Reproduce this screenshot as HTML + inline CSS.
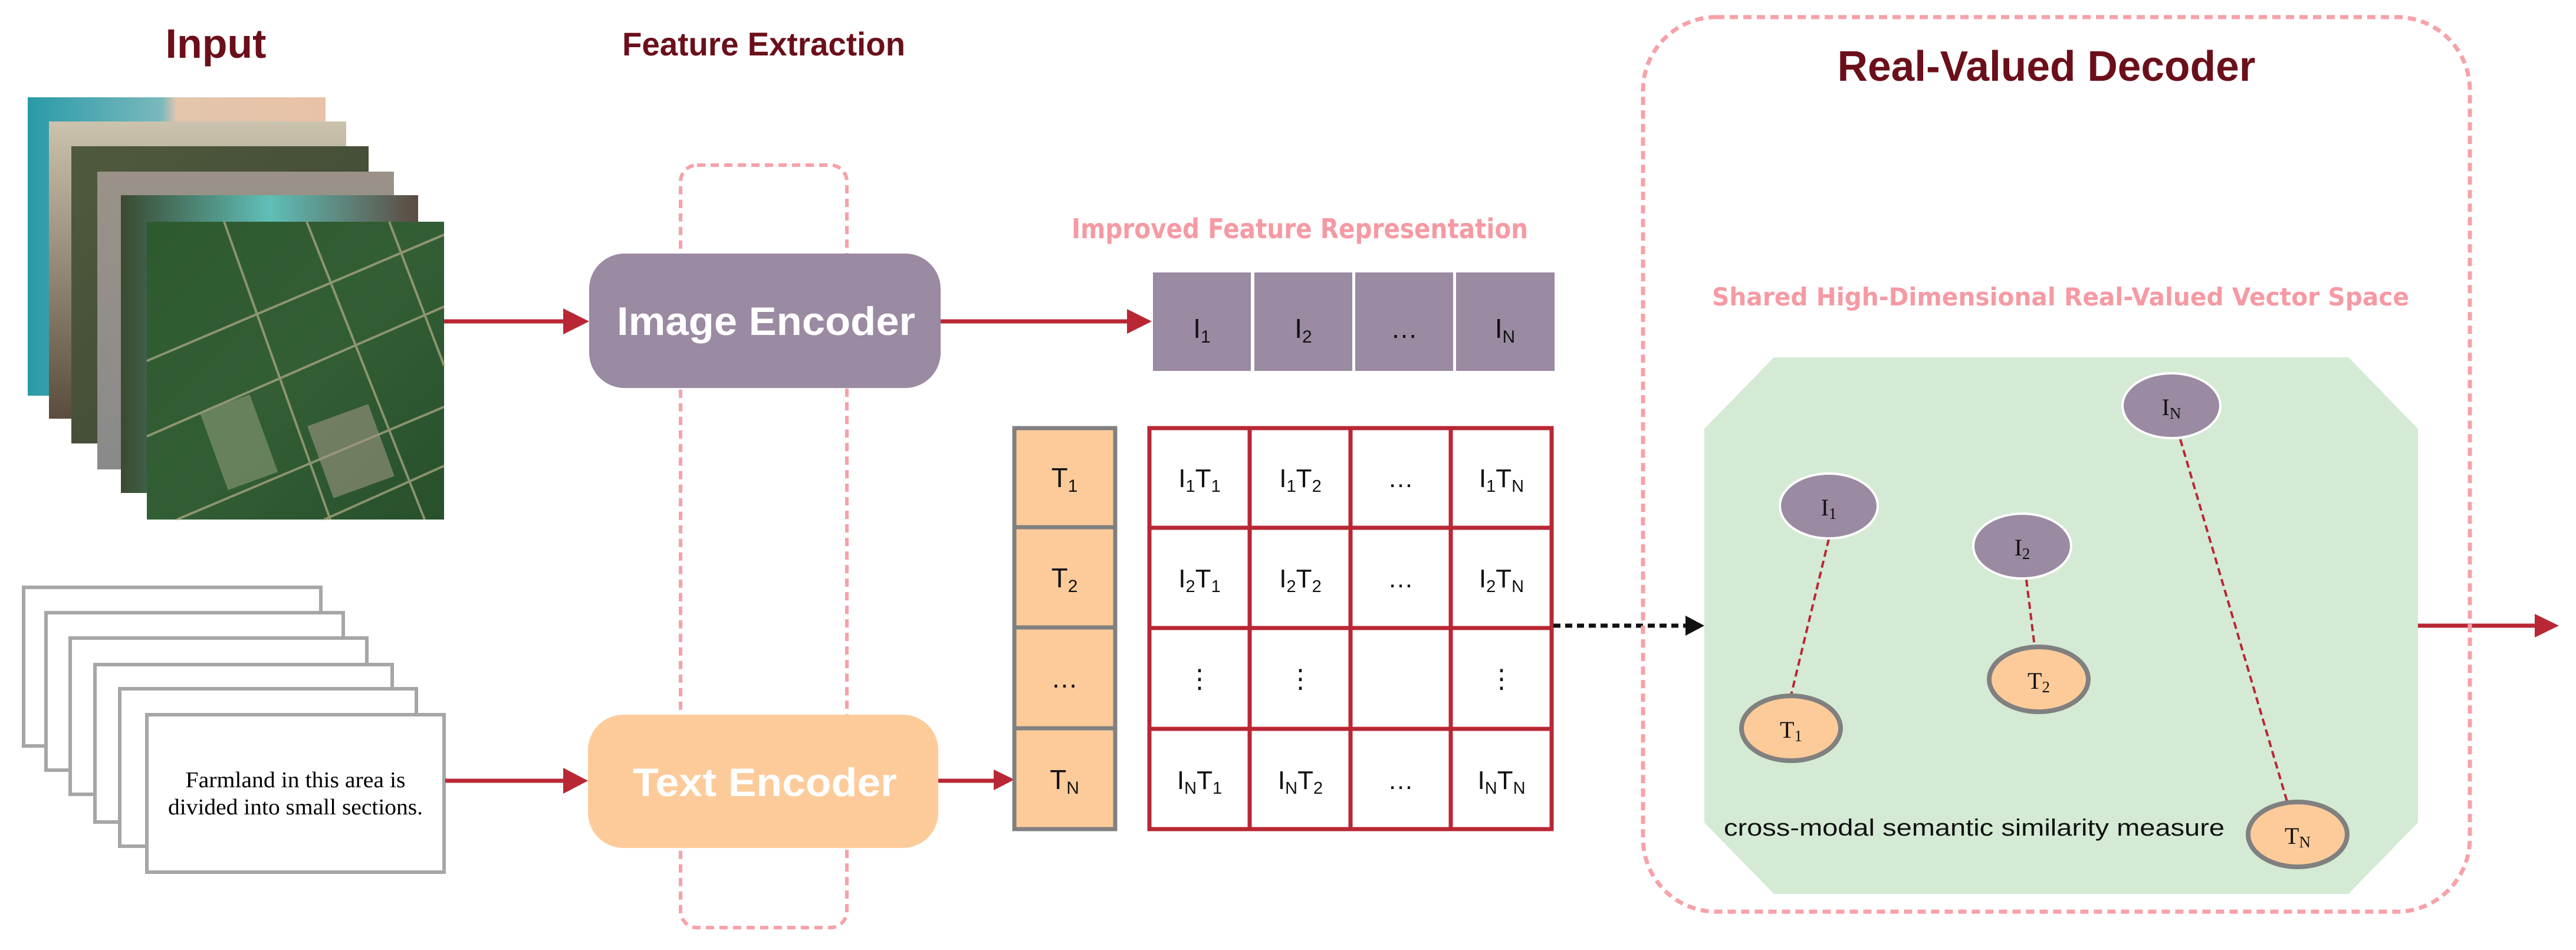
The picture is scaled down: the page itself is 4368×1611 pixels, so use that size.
<!DOCTYPE html>
<html><head><meta charset="utf-8"><style>html,body{margin:0;padding:0;background:#fff}svg{display:block}</style></head>
<body>
<svg width="4368" height="1611" viewBox="0 0 4368 1611" xmlns="http://www.w3.org/2000/svg">
<defs>
<linearGradient id="g1" x1="0" y1="0" x2="1" y2="0"><stop offset="0" stop-color="#2a9aa8"/><stop offset="0.45" stop-color="#7ab9bd"/><stop offset="0.5" stop-color="#e2c6ad"/><stop offset="1" stop-color="#e9c2a8"/></linearGradient>
<linearGradient id="g2" x1="0" y1="0" x2="0" y2="1"><stop offset="0" stop-color="#cbc3ae"/><stop offset="1" stop-color="#5a4d3e"/></linearGradient>
<linearGradient id="g3" x1="0" y1="0" x2="1" y2="1"><stop offset="0" stop-color="#4f5a3d"/><stop offset="1" stop-color="#3e4532"/></linearGradient>
<linearGradient id="g4" x1="0" y1="0" x2="0" y2="1"><stop offset="0" stop-color="#9a9288"/><stop offset="1" stop-color="#8a8a8a"/></linearGradient>
<linearGradient id="g5" x1="0" y1="0" x2="1" y2="0"><stop offset="0" stop-color="#3a4a30"/><stop offset="0.5" stop-color="#5fbfb8"/><stop offset="1" stop-color="#5c4a40"/></linearGradient>
<linearGradient id="g6" x1="0" y1="0" x2="1" y2="1"><stop offset="0" stop-color="#2e5a30"/><stop offset="0.5" stop-color="#335e35"/><stop offset="1" stop-color="#27502b"/></linearGradient>
</defs>

<!-- titles -->
<text x="366" y="98" font-family="Liberation Sans, sans-serif" font-weight="bold" font-size="70" fill="#6b0f1a" text-anchor="middle" textLength="171" lengthAdjust="spacingAndGlyphs">Input</text>
<text x="1295" y="94" font-family="Liberation Sans, sans-serif" font-weight="bold" font-size="56" fill="#6b0f1a" text-anchor="middle" textLength="480" lengthAdjust="spacingAndGlyphs">Feature Extraction</text>

<!-- image stack -->
<rect x="47" y="165" width="505" height="506" fill="url(#g1)"/>
<rect x="83" y="206" width="504" height="504" fill="url(#g2)"/>
<rect x="121" y="248" width="504" height="504" fill="url(#g3)"/>
<rect x="165" y="291" width="503" height="505" fill="url(#g4)"/>
<rect x="205" y="331" width="504" height="505" fill="url(#g5)"/>
<rect x="249" y="376" width="504" height="505" fill="url(#g6)"/>
<g stroke="#b5ad8a" stroke-width="4" opacity="0.7" fill="none">
<path d="M249 612 L753 398"/><path d="M249 740 L753 520"/><path d="M300 881 L753 690"/><path d="M550 881 L753 790"/>
<path d="M380 376 L560 881"/><path d="M520 376 L720 881"/><path d="M660 376 L753 620"/>
</g>
<rect x="540" y="700" width="110" height="130" fill="#9e9680" opacity="0.6" transform="rotate(-20 595 765)"/>
<rect x="360" y="680" width="90" height="140" fill="#8a9a78" opacity="0.6" transform="rotate(-20 405 750)"/>

<!-- text cards -->
<g fill="#fff" stroke="#a6a6a6" stroke-width="6">
<rect x="40" y="996" width="504" height="269"/>
<rect x="78" y="1039" width="504" height="267"/>
<rect x="119" y="1082" width="503" height="265"/>
<rect x="161" y="1127" width="504" height="267"/>
<rect x="203" y="1168" width="503" height="267"/>
<rect x="249" y="1212" width="504" height="267"/>
</g>
<text x="501" y="1335" font-family="Liberation Serif, serif" font-size="38" fill="#000" text-anchor="middle" textLength="373" lengthAdjust="spacingAndGlyphs">Farmland in this area is</text>
<text x="501" y="1381" font-family="Liberation Serif, serif" font-size="38" fill="#000" text-anchor="middle" textLength="432" lengthAdjust="spacingAndGlyphs">divided into small sections.</text>

<!-- dashed feature extraction rect -->
<rect x="1154" y="280" width="282" height="1293" rx="28" fill="none" stroke="#f7a1a8" stroke-width="6" stroke-dasharray="14 9"/>

<!-- encoders -->
<rect x="999" y="430" width="596" height="228" rx="60" fill="#9a8aa2"/>
<text x="1299" y="568" font-family="Liberation Sans, sans-serif" font-weight="bold" font-size="68" fill="#fff" text-anchor="middle" textLength="506" lengthAdjust="spacingAndGlyphs">Image Encoder</text>
<rect x="997" y="1212" width="594" height="226" rx="60" fill="#fdcb9a"/>
<text x="1297" y="1350" font-family="Liberation Sans, sans-serif" font-weight="bold" font-size="68" fill="#fff" text-anchor="middle" textLength="448" lengthAdjust="spacingAndGlyphs">Text Encoder</text>

<!-- arrows -->
<g stroke="#b92735" stroke-width="7" fill="#b92735">
<line x1="753" y1="545" x2="960" y2="545"/>
<line x1="755" y1="1324" x2="960" y2="1324"/>
<line x1="1595" y1="545" x2="1915" y2="545"/>
<line x1="1591" y1="1324" x2="1690" y2="1324"/>
<line x1="4097" y1="1061" x2="4300" y2="1061"/>
</g>
<g fill="#b92735">
<polygon points="955,523 999,545 955,567"/>
<polygon points="955,1302 997,1324 955,1346"/>
<polygon points="1911,524 1953,545 1911,566"/>
<polygon points="1685,1305 1720,1322 1685,1340"/>
<polygon points="4298,1041 4339,1061 4298,1081"/>
</g>

<!-- Improved feature representation -->
<text x="2204" y="404" font-family="DejaVu Sans, sans-serif" font-weight="bold" font-size="46" fill="#f59aa3" text-anchor="middle" textLength="774" lengthAdjust="spacingAndGlyphs">Improved Feature Representation</text>
<g fill="#9a8aa2">
<rect x="1955" y="462" width="166" height="167"/>
<rect x="2127" y="462" width="166" height="167"/>
<rect x="2298" y="462" width="166" height="167"/>
<rect x="2469" y="462" width="167" height="167"/>
</g>
<g font-family="Liberation Sans, sans-serif" font-size="46" fill="#111" text-anchor="middle">
<text x="2038" y="573">I<tspan font-size="30" dy="8">1</tspan></text>
<text x="2210" y="573">I<tspan font-size="30" dy="8">2</tspan></text>
<text x="2381" y="573">…</text>
<text x="2552" y="573">I<tspan font-size="30" dy="8">N</tspan></text>
</g>

<!-- T column -->
<rect x="1720" y="726" width="171" height="680" fill="#fdcb9a" stroke="#808080" stroke-width="7"/>
<g stroke="#808080" stroke-width="7">
<line x1="1720" y1="894" x2="1891" y2="894"/><line x1="1720" y1="1064" x2="1891" y2="1064"/><line x1="1720" y1="1235" x2="1891" y2="1235"/>
</g>
<g font-family="Liberation Sans, sans-serif" font-size="46" fill="#111" text-anchor="middle">
<text x="1805" y="826">T<tspan font-size="30" dy="8">1</tspan></text>
<text x="1805" y="996">T<tspan font-size="30" dy="8">2</tspan></text>
<text x="1805" y="1166">…</text>
<text x="1805" y="1338">T<tspan font-size="30" dy="8">N</tspan></text>
</g>

<!-- matrix -->
<rect x="1949" y="726" width="682" height="680" fill="#fff" stroke="#b92735" stroke-width="7"/>
<g stroke="#b92735" stroke-width="7">
<line x1="2119" y1="726" x2="2119" y2="1406"/><line x1="2290" y1="726" x2="2290" y2="1406"/><line x1="2460" y1="726" x2="2460" y2="1406"/>
<line x1="1949" y1="895" x2="2631" y2="895"/><line x1="1949" y1="1065" x2="2631" y2="1065"/><line x1="1949" y1="1236" x2="2631" y2="1236"/>
</g>
<g font-family="Liberation Sans, sans-serif" font-size="44" fill="#111" text-anchor="middle">
<text x="2034" y="826">I<tspan font-size="29" dy="8">1</tspan><tspan dy="-8">T</tspan><tspan font-size="29" dy="8">1</tspan></text>
<text x="2205" y="826">I<tspan font-size="29" dy="8">1</tspan><tspan dy="-8">T</tspan><tspan font-size="29" dy="8">2</tspan></text>
<text x="2375" y="826">…</text>
<text x="2546" y="826">I<tspan font-size="29" dy="8">1</tspan><tspan dy="-8">T</tspan><tspan font-size="29" dy="8">N</tspan></text>
<text x="2034" y="996">I<tspan font-size="29" dy="8">2</tspan><tspan dy="-8">T</tspan><tspan font-size="29" dy="8">1</tspan></text>
<text x="2205" y="996">I<tspan font-size="29" dy="8">2</tspan><tspan dy="-8">T</tspan><tspan font-size="29" dy="8">2</tspan></text>
<text x="2375" y="996">…</text>
<text x="2546" y="996">I<tspan font-size="29" dy="8">2</tspan><tspan dy="-8">T</tspan><tspan font-size="29" dy="8">N</tspan></text>
<text x="2034" y="1166">⋮</text>
<text x="2205" y="1166">⋮</text>
<text x="2546" y="1166">⋮</text>
<text x="2034" y="1338">I<tspan font-size="29" dy="8">N</tspan><tspan dy="-8">T</tspan><tspan font-size="29" dy="8">1</tspan></text>
<text x="2205" y="1338">I<tspan font-size="29" dy="8">N</tspan><tspan dy="-8">T</tspan><tspan font-size="29" dy="8">2</tspan></text>
<text x="2375" y="1338">…</text>
<text x="2546" y="1338">I<tspan font-size="29" dy="8">N</tspan><tspan dy="-8">T</tspan><tspan font-size="29" dy="8">N</tspan></text>
</g>

<!-- dashed black arrow -->
<line x1="2634" y1="1061" x2="2860" y2="1061" stroke="#111" stroke-width="7" stroke-dasharray="12 8"/>
<polygon points="2858,1044 2890,1061 2858,1078" fill="#111"/>

<!-- decoder -->
<rect x="2786" y="29" width="1402" height="1517" rx="124" fill="none" stroke="#f7a1a8" stroke-width="7" stroke-dasharray="14 9"/>
<text x="3470" y="137" font-family="Liberation Sans, sans-serif" font-weight="bold" font-size="72" fill="#6b0f1a" text-anchor="middle" textLength="709" lengthAdjust="spacingAndGlyphs">Real-Valued Decoder</text>
<text x="3494" y="518" font-family="DejaVu Sans, sans-serif" font-weight="bold" font-size="42" fill="#f59aa3" text-anchor="middle" textLength="1182" lengthAdjust="spacingAndGlyphs">Shared High-Dimensional Real-Valued Vector Space</text>
<polygon points="3008,606 3982,606 4100,727 4100,1395 3982,1516 3008,1516 2890,1395 2890,727" fill="#d4ead4"/>

<g stroke="#b92735" stroke-width="4" stroke-dasharray="12 7">
<line x1="3101" y1="914" x2="3037" y2="1179"/>
<line x1="3436" y1="983" x2="3450" y2="1096"/>
<line x1="3697" y1="745" x2="3878" y2="1359"/>
</g>
<g fill="#9a8aa2" stroke="#fff" stroke-width="4">
<ellipse cx="3682" cy="688" rx="83" ry="55"/>
<ellipse cx="3101" cy="858" rx="83" ry="55"/>
<ellipse cx="3429" cy="926" rx="83" ry="55"/>
</g>
<g fill="#fdcb9a" stroke="#808080" stroke-width="8">
<ellipse cx="3037" cy="1235" rx="84" ry="55"/>
<ellipse cx="3457" cy="1152" rx="84" ry="55"/>
<ellipse cx="3896" cy="1415" rx="84" ry="55"/>
</g>
<g font-family="Liberation Serif, serif" font-size="40" fill="#111" text-anchor="middle">
<text x="3682" y="704">I<tspan font-size="27" dy="6">N</tspan></text>
<text x="3101" y="874">I<tspan font-size="27" dy="6">1</tspan></text>
<text x="3429" y="942">I<tspan font-size="27" dy="6">2</tspan></text>
<text x="3037" y="1251">T<tspan font-size="27" dy="6">1</tspan></text>
<text x="3457" y="1168">T<tspan font-size="27" dy="6">2</tspan></text>
<text x="3896" y="1431">T<tspan font-size="27" dy="6">N</tspan></text>
</g>
<text x="2923" y="1417" font-family="Liberation Sans, sans-serif" font-size="40" fill="#111" textLength="849" lengthAdjust="spacingAndGlyphs">cross-modal semantic similarity measure</text>
</svg>
</body></html>
